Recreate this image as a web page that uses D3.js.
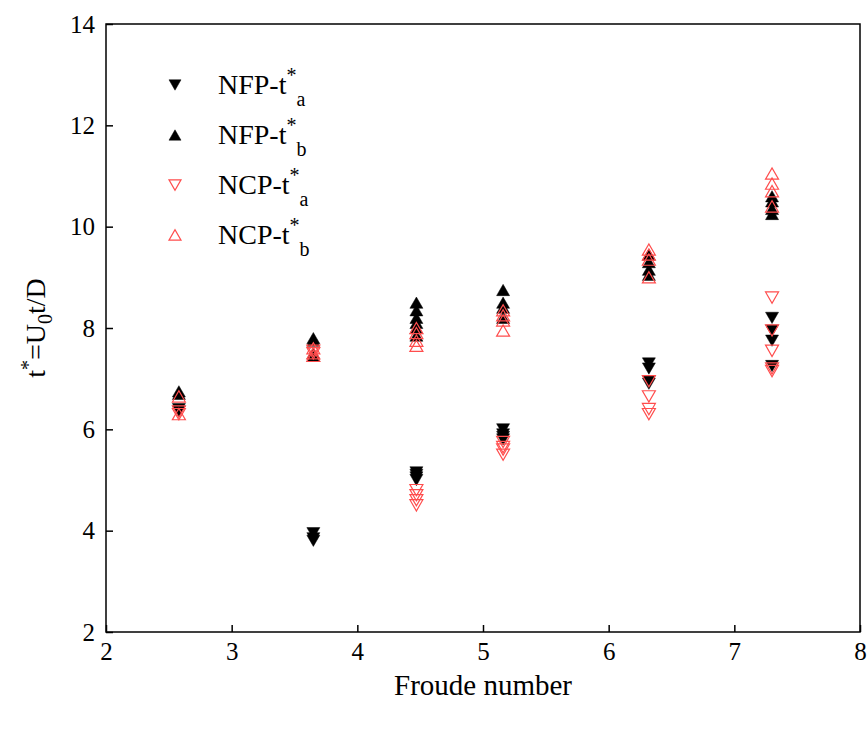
<!DOCTYPE html>
<html><head><meta charset="utf-8">
<script src="https://cdn.jsdelivr.net/npm/d3@7"></script>
<style>body{margin:0;background:#fff}svg{display:block}text{font-family:"Liberation Serif","Times New Roman",serif}</style>
</head><body>
<svg id="c" width="868" height="729"></svg>
<script>
const froude = [2.58, 3.65, 4.47, 5.16, 6.32, 7.30];
const nfpTa = [[6.4,6.35],[3.95,3.85,3.8],[5.15,5.1,5.05,5.0],[6.0,5.9,5.85,5.8],[7.3,7.2,6.95,6.9],[8.2,7.95,7.75,7.25]];
const nfpTb = [[6.75,6.7],[7.8,7.75,7.5,7.45],[8.5,8.35,8.2,8.1,8.0,7.85],[8.75,8.5,8.4,8.2],[9.45,9.3,9.15,9.05],[10.6,10.5,10.35,10.25]];
const ncpTa = [[6.35,6.3],[7.55,7.5],[4.8,4.7,4.6,4.5],[5.75,5.65,5.6,5.5],[6.95,6.65,6.4,6.3],[8.6,7.95,7.55,7.2,7.15]];
const ncpTb = [[6.65,6.3],[7.6,7.5,7.45],[8.0,7.9,7.75,7.65],[8.35,8.25,8.15,7.95],[9.55,9.45,9.35,9.0],[11.05,10.85,10.7,10.4]];
const xTicks = [2,3,4,5,6,7,8];
const yTicks = [2,4,6,8,10,12,14];
const seriesNames = ["NFP-t*a","NFP-t*b","NCP-t*a","NCP-t*b"];

const svg = d3.select("#c");
const L=106,R=860,T=24,B=632;
const x = d3.scaleLinear().domain([2,8]).range([L,R]);
const y = d3.scaleLinear().domain([2,14]).range([B,T]);

const series = [
  {data:nfpTa, down:true, fill:"#000", stroke:"#000"},
  {data:nfpTb, down:false, fill:"#000", stroke:"#000"},
  {data:ncpTa, down:true, fill:"none", stroke:"#ff4d4d"},
  {data:ncpTb, down:false, fill:"none", stroke:"#ff4d4d"}
];
function tri(down, s){
  const h=s*0.866;
  return down ? `M${-s/2},${-h/2}L${s/2},${-h/2}L0,${h/2}Z` : `M${-s/2},${h/2}L${s/2},${h/2}L0,${-h/2}Z`;
}
const pts = [];
series.forEach((se,si)=>se.data.forEach((arr,i)=>arr.forEach(v=>pts.push({si,fx:froude[i],v}))));
svg.append("g").selectAll("path").data(pts).join("path")
  .attr("transform",d=>`translate(${x(d.fx)},${y(d.v)})`)
  .attr("d",d=>tri(series[d.si].down, 13))
  .attr("fill",d=>series[d.si].fill)
  .attr("stroke",d=>series[d.si].stroke)
  .attr("stroke-width",d=>series[d.si].fill==="none"?1.2:0.5);

// axes
const gx = svg.append("g").attr("transform",`translate(0,${B})`)
  .call(d3.axisBottom(x).tickValues(xTicks).tickSize(-7).tickPadding(10).tickFormat(d3.format("d")));
const gy = svg.append("g").attr("transform",`translate(${L},0)`)
  .call(d3.axisLeft(y).tickValues(yTicks).tickSize(-7).tickPadding(11).tickFormat(d3.format("d")));
[gx,gy].forEach(g=>{g.select(".domain").remove();g.selectAll("line").attr("stroke","#000").attr("stroke-width",1.5);
  g.selectAll("text").attr("font-size",25).attr("fill","#000").style("font-family","Liberation Serif");});
svg.append("rect").attr("x",L).attr("y",T).attr("width",R-L).attr("height",B-T)
  .attr("fill","none").attr("stroke","#000").attr("stroke-width",1.5);

svg.append("text").attr("x",(L+R)/2).attr("y",695).attr("text-anchor","middle").attr("font-size",29).text("Froude number");
const yl = svg.append("text").attr("transform",`translate(45,${(T+B)/2}) rotate(-90)`).attr("text-anchor","middle").attr("font-size",28);
yl.append("tspan").text("t");
yl.append("tspan").attr("dy",-10).attr("font-size",20).text("*");
yl.append("tspan").attr("dy",10).text("=U");
yl.append("tspan").attr("dy",7).attr("font-size",20).text("0");
yl.append("tspan").attr("dy",-7).text("t/D");

// legend
const legY=[85,135,185,235];
series.forEach((se,i)=>{
  svg.append("path").attr("transform",`translate(175,${legY[i]})`).attr("d",tri(se.down,12))
    .attr("fill",se.fill).attr("stroke",se.stroke).attr("stroke-width",se.fill==="none"?1.2:0.5);
  const t = svg.append("text").attr("x",218).attr("y",legY[i]+9).attr("font-size",28);
  const nm = seriesNames[i];
  t.append("tspan").text(nm.slice(0,5));
  t.append("tspan").attr("dy",-12).attr("font-size",20).text("*");
  t.append("tspan").attr("dy",24).attr("font-size",20).text(nm.slice(6));
});
</script>
</body></html>
